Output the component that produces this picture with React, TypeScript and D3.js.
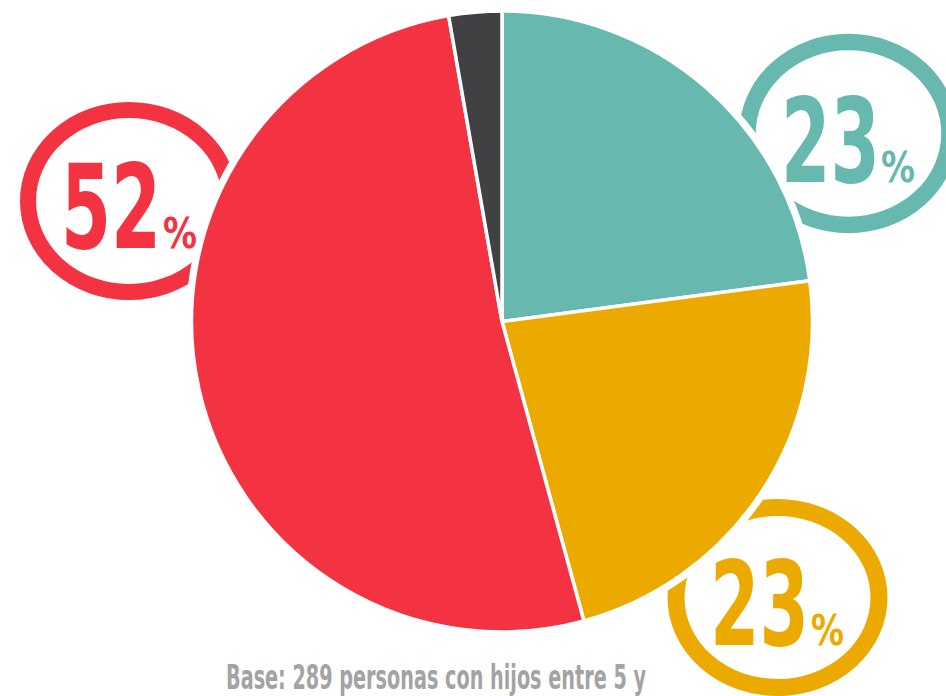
import React from "react";
import * as d3 from "d3";

const categories = ["Teal", "Amarillo", "Rojo", "Gris"];
const values = [22.9, 22.85, 51.5, 2.75];
const colors = ["#67b9b0", "#ecaa00", "#f43342", "#414143"];

const labelTexts = ["23", "23", "52"];
const labelColors = ["#67b9b0", "#ecaa00", "#f43342"];
const footnote = "Base: 289 personas con hijos entre 5 y";

const W = 946;
const H = 696;

const rings = [
  { cx: 848.5, cy: 133.5, rx: 101, ry: 91.5, sw: 16.5, num: { x: 781, y: 182, len: 99 }, pct: { x: 881, len: 34 } },
  { cx: 777.5, cy: 597.5, rx: 101.5, ry: 90, sw: 17, num: { x: 710, y: 645, len: 99 }, pct: { x: 811, len: 33 } },
  { cx: 129, cy: 201, rx: 101, ry: 91, sw: 16, num: { x: 61, y: 248, len: 100 }, pct: { x: 163, len: 34 } },
];

export default function App() {
  const cx = 502;
  const cy = 321.5;
  const R = 310.5;
  const pie = d3.pie<number>().sort(null).value((d) => d)(values);
  const arc = d3.arc<d3.PieArcDatum<number>>().innerRadius(0).outerRadius(R);

  return (
    <svg width={W} height={H} style={{ position: "absolute", left: 0, top: 0 }}>
      <rect width={W} height={H} fill="#ffffff" />
      {rings.map((rg, i) => (
        <ellipse
          key={"ring" + i}
          cx={rg.cx}
          cy={rg.cy}
          rx={rg.rx}
          ry={rg.ry}
          fill="none"
          stroke={labelColors[i]}
          strokeWidth={rg.sw}
        />
      ))}
      <g transform={`translate(${cx},${cy})`}>
        <circle r={R} fill="#ffffff" stroke="#ffffff" strokeWidth={11} />
        {pie.map((p, i) => (
          <path key={categories[i]} d={arc(p) || ""} fill={colors[i]} stroke="#ffffff" strokeWidth={3.5} strokeLinejoin="miter" />
        ))}
      </g>
      {rings.map((rg, i) => (
        <g key={"lbl" + i} fill={labelColors[i]} fontFamily="'DejaVu Sans', sans-serif" fontWeight="bold">
          <text x={rg.num.x} y={rg.num.y} fontSize={118} textLength={rg.num.len} lengthAdjust="spacingAndGlyphs">
            {labelTexts[i]}
          </text>
          <text x={rg.pct.x} y={rg.num.y} fontSize={43} textLength={rg.pct.len} lengthAdjust="spacingAndGlyphs">
            %
          </text>
        </g>
      ))}
      <text
        x={226}
        y={689}
        fontSize={34}
        fontFamily="'DejaVu Sans', sans-serif"
        fontWeight="bold"
        fill="#a3a3a3"
        textLength={420}
        lengthAdjust="spacingAndGlyphs"
      >
        {footnote}
      </text>
    </svg>
  );
}
